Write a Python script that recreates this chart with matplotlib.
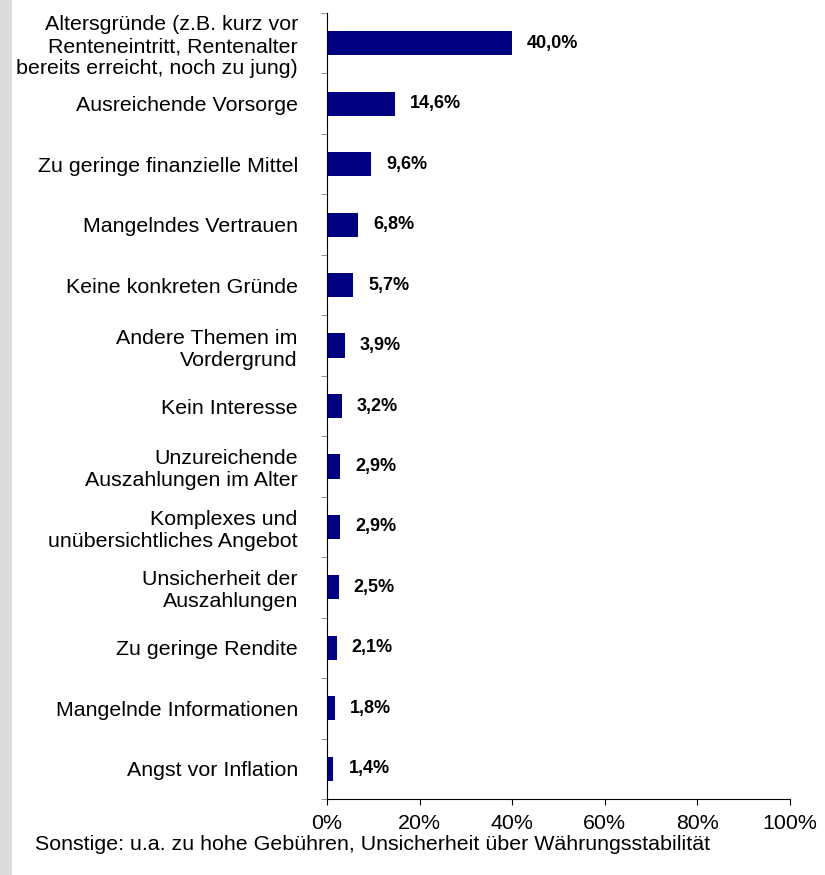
import matplotlib.pyplot as plt
import numpy as np
from matplotlib.patches import Rectangle

# Daten
gruende = [
    "Altersgründe (z.B. kurz vor\nRenteneintritt, Rentenalter\nbereits erreicht, noch zu jung)",
    "Ausreichende Vorsorge",
    "Zu geringe finanzielle Mittel",
    "Mangelndes Vertrauen",
    "Keine konkreten Gründe",
    "Andere Themen im\nVordergrund",
    "Kein Interesse",
    "Unzureichende\nAuszahlungen im Alter",
    "Komplexes und\nunübersichtliches Angebot",
    "Unsicherheit der\nAuszahlungen",
    "Zu geringe Rendite",
    "Mangelnde Informationen",
    "Angst vor Inflation",
]
anteile = [40.0, 14.6, 9.6, 6.8, 5.7, 3.9, 3.2, 2.9, 2.9, 2.5, 2.1, 1.8, 1.4]
x_ticks = [0, 20, 40, 60, 80, 100]
fussnote = "Sonstige: u.a. zu hohe Gebühren, Unsicherheit über Währungsstabilität"

plt.rcParams["font.family"] = ["Liberation Sans", "DejaVu Sans"]

fig = plt.figure(figsize=(8.25, 8.75), dpi=100)
# grauer Streifen links
fig.patches.append(Rectangle((0, 0), 12 / 825, 1, transform=fig.transFigure,
                             facecolor="#dcdcdc", edgecolor="none", zorder=0))

ax = fig.add_axes([327 / 825, 1 - 799 / 875, 463 / 825, 786 / 875])
y = np.arange(len(gruende))
ax.barh(y, anteile, height=0.4, color="#000080")

for yi, v in zip(y, anteile):
    ax.annotate(f"{v:.1f}%".replace(".", ","), (v, yi), xytext=(15, 0),
                textcoords="offset pixels", va="center", ha="left",
                fontsize=13, fontweight="bold")

ax.set_xlim(0, 100)
ax.set_ylim(len(gruende) - 0.5, -0.5)
ax.set_yticks(y)
ax.set_yticklabels(gruende, fontsize=15.4, ha="right")
ax.set_yticks(np.arange(len(gruende) + 1) - 0.5, minor=True)
ax.tick_params(axis="y", which="major", length=0, pad=21)
ax.tick_params(axis="y", which="minor", length=4, direction="out", color="#808080")
ax.set_xticks(x_ticks)
ax.set_xticklabels([f"{t}%" for t in x_ticks], fontsize=15.4)
ax.tick_params(axis="x", length=4, direction="out", pad=7)

for s in ["top", "right"]:
    ax.spines[s].set_visible(False)

fig.text(35 / 825, 1 - 844 / 875, fussnote, fontsize=15.4, ha="left", va="center")

plt.savefig("out.png", dpi=100)
